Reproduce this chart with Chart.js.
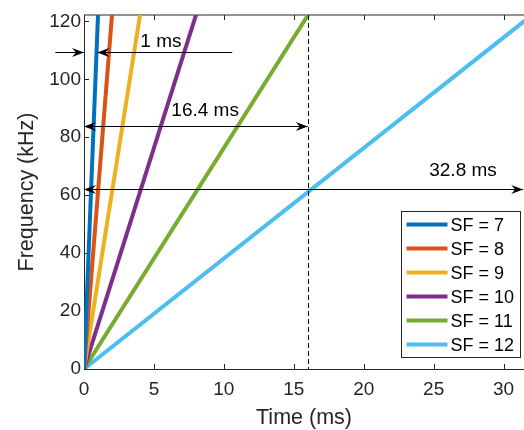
<!DOCTYPE html>
<html>
<head>
<meta charset="utf-8">
<script src="https://cdn.jsdelivr.net/npm/chart.js@4.4.1/dist/chart.umd.min.js"></script>
<style>
  html, body { margin: 0; padding: 0; background: #fff; }
  #wrap { width: 524px; height: 430px; }
</style>
</head>
<body>
<div id="wrap"><canvas id="myChart"></canvas></div>
<script>
// chirp lines: each one goes from (0 ms, 0 kHz) up to (symbol time, bandwidth)
var sfLabels = ["SF = 7", "SF = 8", "SF = 9", "SF = 10", "SF = 11", "SF = 12"];
var chirpEndMs = [1.024, 2.048, 4.096, 8.192, 16.384, 32.768];
var chirpEndKHz = [125, 125, 125, 125, 125, 125];
var lineColors = ["#0072BD", "#D95319", "#EDB120", "#7E2F8E", "#77AC30", "#4DBEEE"];

// axis ranges and ticks
var xMax = 31.46;
var yMax = 122.2;
var xTicks = [0, 5, 10, 15, 20, 25, 30];
var yTicks = [0, 20, 40, 60, 80, 100, 120];

// annotations (data units)
var dashedLineMs = 16;
var arrowFromMs = [-2.05, 10.6, 0, 0];
var arrowToMs = [0, 0.95, 16, 31.4];
var arrowKHz = [109.4, 109.4, 83.9, 62.3];
var arrowBoth = [false, false, true, true];
var noteText = ["1 ms", "16.4 ms", "32.8 ms"];
var noteMs = [5.5, 8.66, 27.1];
var noteKHz = [113.1, 89.0, 68.6];

var axisColor = "#262626";
var fontFamily = "'Liberation Sans', Arial, sans-serif";

var datasets = [];
for (let i = 0; i < sfLabels.length; i++) {
    datasets.push({
        label: sfLabels[i],
        data: [{ x: 0, y: 0 }, { x: chirpEndMs[i], y: chirpEndKHz[i] }],
        borderColor: lineColors[i],
        backgroundColor: lineColors[i],
        borderWidth: 4,
        pointRadius: 0,
        showLine: true,
        fill: false
    });
}

function arrowHead(ctx, tipX, y, dir) {
    // matlab-ish "vback2" head, dir = +1 points right, -1 points left
    var len = 12, half = 4.5, notch = 4;
    ctx.beginPath();
    ctx.moveTo(tipX, y);
    ctx.lineTo(tipX - dir * len, y - half);
    ctx.lineTo(tipX - dir * (len - notch), y);
    ctx.lineTo(tipX - dir * len, y + half);
    ctx.closePath();
    ctx.fill();
}

var axesPlugin = {
    id: "matlabAxes",
    beforeDatasetsDraw(chart) {
        var ctx = chart.ctx, a = chart.chartArea;
        var xs = chart.scales.x, ys = chart.scales.y;
        ctx.save();
        ctx.strokeStyle = axisColor;
        ctx.lineWidth = 1;
        ctx.beginPath();
        ctx.moveTo(Math.round(a.left) + 0.5, a.top);
        ctx.lineTo(Math.round(a.left) + 0.5, a.bottom);
        ctx.moveTo(a.left, Math.round(a.bottom) + 0.5);
        ctx.lineTo(a.right, Math.round(a.bottom) + 0.5);
        ctx.moveTo(a.left, Math.round(a.top));
        ctx.lineTo(a.right, Math.round(a.top));
        // inward ticks
        for (let i = 0; i < xTicks.length; i++) {
            var px = Math.round(xs.getPixelForValue(xTicks[i])) + 0.5;
            ctx.moveTo(px, a.bottom);
            ctx.lineTo(px, a.bottom - 5);
            ctx.moveTo(px, a.top);
            ctx.lineTo(px, a.top + 5);
        }
        for (let i = 0; i < yTicks.length; i++) {
            var py = Math.round(ys.getPixelForValue(yTicks[i])) + 0.5;
            ctx.moveTo(a.left, py);
            ctx.lineTo(a.left + 5, py);
        }
        ctx.stroke();
        ctx.restore();
    },
    afterDatasetsDraw(chart) {
        var ctx = chart.ctx, a = chart.chartArea;
        var xs = chart.scales.x, ys = chart.scales.y;
        ctx.save();

        // dashed marker line
        var dx = Math.round(xs.getPixelForValue(dashedLineMs)) + 0.5;
        ctx.strokeStyle = "#000";
        ctx.lineWidth = 1;
        ctx.setLineDash([5, 3]);
        ctx.beginPath();
        ctx.moveTo(dx, a.top);
        ctx.lineTo(dx, a.bottom);
        ctx.stroke();
        ctx.setLineDash([]);

        // arrows
        ctx.fillStyle = "#000";
        for (let i = 0; i < arrowFromMs.length; i++) {
            var x1 = xs.getPixelForValue(arrowFromMs[i]);
            var x2 = xs.getPixelForValue(arrowToMs[i]);
            var y = Math.round(ys.getPixelForValue(arrowKHz[i])) + 0.5;
            var dir = x2 > x1 ? 1 : -1;
            ctx.beginPath();
            ctx.moveTo(x1, y);
            ctx.lineTo(x2, y);
            ctx.stroke();
            arrowHead(ctx, x2, y, dir);
            if (arrowBoth[i]) arrowHead(ctx, x1, y, -dir);
        }

        // arrow labels
        ctx.font = "19px " + fontFamily;
        ctx.fillStyle = "#000";
        ctx.textAlign = "center";
        ctx.textBaseline = "middle";
        for (let i = 0; i < noteText.length; i++) {
            ctx.fillText(noteText[i], xs.getPixelForValue(noteMs[i]), ys.getPixelForValue(noteKHz[i]));
        }

        // legend box, lower right
        var boxW = 119, rowH = 24, boxH = rowH * sfLabels.length + 2;
        var bx = Math.round(a.right - 4 - boxW) + 0.5;
        var by = Math.round(a.bottom - 12 - boxH) + 0.5;
        ctx.fillStyle = "#fff";
        ctx.fillRect(bx, by, boxW, boxH);
        ctx.strokeStyle = axisColor;
        ctx.lineWidth = 1;
        ctx.strokeRect(bx, by, boxW, boxH);
        ctx.font = "18px " + fontFamily;
        ctx.textAlign = "left";
        var ds = chart.data.datasets;
        for (let i = 0; i < ds.length; i++) {
            var ry = by + 13 + i * rowH;
            ctx.strokeStyle = ds[i].borderColor;
            ctx.lineWidth = 4;
            ctx.beginPath();
            ctx.moveTo(bx + 5, ry);
            ctx.lineTo(bx + 46, ry);
            ctx.stroke();
            ctx.fillStyle = "#000";
            ctx.fillText(ds[i].label, bx + 49, ry + 1.5);
        }
        ctx.restore();
    }
};

new Chart("myChart", {
    type: "scatter",
    data: { datasets: datasets },
    plugins: [axesPlugin],
    options: {
        responsive: true,
        maintainAspectRatio: false,
        animation: false,
        layout: { padding: { top: 15, right: 0, left: 0, bottom: 0 } },
        plugins: {
            legend: { display: false },
            tooltip: { enabled: false }
        },
        scales: {
            x: {
                type: "linear",
                min: 0,
                max: xMax,
                afterFit: function (scale) { scale.height = 61; },
                grid: { display: false, drawTicks: false },
                border: { display: false },
                ticks: {
                    stepSize: 5,
                    includeBounds: false,
                    maxRotation: 0,
                    color: axisColor,
                    padding: 9,
                    font: { family: fontFamily, size: 19 }
                },
                title: {
                    display: true,
                    text: "Time (ms)",
                    color: axisColor,
                    padding: { top: 0, bottom: -1 },
                    font: { family: fontFamily, size: 21.5 }
                }
            },
            y: {
                type: "linear",
                min: 0,
                max: yMax,
                afterFit: function (scale) { scale.width = 84; },
                grid: { display: false, drawTicks: false },
                border: { display: false },
                ticks: {
                    stepSize: 20,
                    includeBounds: false,
                    color: axisColor,
                    padding: 3,
                    font: { family: fontFamily, size: 19 }
                },
                title: {
                    display: true,
                    text: "Frequency (kHz)",
                    color: axisColor,
                    padding: { top: 14, bottom: 0 },
                    font: { family: fontFamily, size: 21.5 }
                }
            }
        }
    }
});
</script>
</body>
</html>
